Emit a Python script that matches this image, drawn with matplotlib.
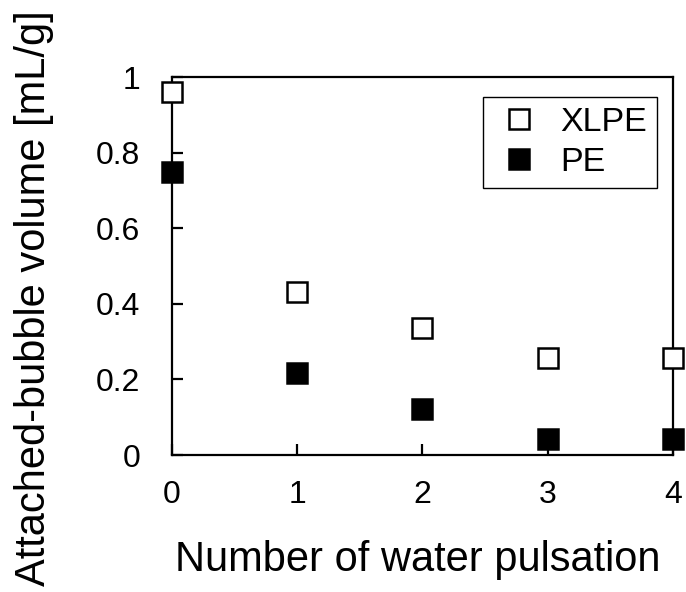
import matplotlib
matplotlib.use("Agg")
import matplotlib.pyplot as plt
from matplotlib.ticker import FormatStrFormatter

plt.rcParams["font.family"] = ["Liberation Sans", "DejaVu Sans"]
plt.rcParams["xtick.direction"] = "in"
plt.rcParams["ytick.direction"] = "in"

pulsation = [0, 1, 2, 3, 4]
xlpe = [0.96, 0.43, 0.335, 0.257, 0.257]
pe = [0.75, 0.218, 0.122, 0.043, 0.043]

x_ticks = [0, 1, 2, 3, 4]
y_ticks = [0, 0.2, 0.4, 0.6, 0.8, 1.0]


def plot_chart():

    fig = plt.figure(figsize=(6.86, 5.92), dpi=100)
    ax = fig.add_axes([0.2507, 0.2314, 0.7303, 0.6385])

    ax.plot(pulsation, xlpe, "s", ms=15, mfc="white", mec="black", mew=1.8,
            label="XLPE", clip_on=False, zorder=3)
    ax.plot(pulsation, pe, "s", ms=15, mfc="black", mec="black", mew=1.8,
            label="PE", clip_on=False, zorder=3)

    ax.set_xlim(0, 4)
    ax.set_ylim(0, 1)
    ax.set_xticks(x_ticks)
    ax.set_yticks(y_ticks)
    ax.yaxis.set_major_formatter(FormatStrFormatter("%g"))

    for sp in ax.spines.values():
        sp.set_linewidth(1.6)

    ax.tick_params(direction="in", length=8, width=1.6, labelsize=23,
                   top=False, right=False)
    ax.tick_params(axis="y", pad=23)
    ax.tick_params(axis="x", pad=18)

    # labels placed in figure coords to match the original layout
    fig.text(0.5 * (176 + 659) / 686, 1 - 560 / 592, "Number of water pulsation",
             fontsize=30, ha="center", va="center")
    fig.text(34 / 686, 1 - 298 / 592, "Attached-bubble volume [mL/g]",
             fontsize=30, ha="center", va="center", rotation=90)

    leg = ax.legend(loc="upper right", bbox_to_anchor=(0.968, 0.947),
                    borderaxespad=0, fontsize=24.5, fancybox=False,
                    edgecolor="black", framealpha=1, handletextpad=0.45,
                    borderpad=0.3, labelspacing=0.25, handlelength=1.5)
    leg.get_frame().set_linewidth(1.0)

    plt.savefig("out.png", dpi=100)


def main():
    plot_chart()


if __name__ == "__main__":
    main()
